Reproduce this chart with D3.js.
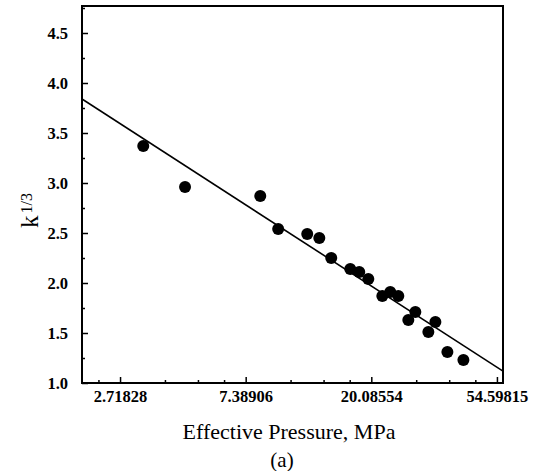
<!DOCTYPE html>
<html><head><meta charset="utf-8">
<script src="https://cdn.jsdelivr.net/npm/d3@7"></script>
<style>body{margin:0;background:#fff}</style>
</head><body><svg id="c" width="535" height="471"></svg>
<script>
// Data
const pressure = [3.27, 4.56, 8.30, 9.57, 12.06, 13.28, 14.60, 16.99, 18.25, 19.61, 21.93, 23.36, 24.90, 26.97, 28.52, 31.63, 33.45, 36.81, 41.81];
const k13 =      [3.37, 2.96, 2.87, 2.54, 2.49, 2.45, 2.25, 2.14, 2.11, 2.04, 1.87, 1.91, 1.87, 1.63, 1.71, 1.51, 1.61, 1.31, 1.23];
const xTickValues = [2.71828, 7.38906, 20.08554, 54.59815];
const xTickLabels = ["2.71828", "7.38906", "20.08554", "54.59815"];
const yTickValues = [1.0, 1.5, 2.0, 2.5, 3.0, 3.5, 4.0, 4.5];
const fitIntercept = 4.406;   // k^1/3 = a + b ln(P)
const fitSlope = -0.812;
const xDomain = [2.008, 57.3];
const yDomain = [1.0, 4.77];

const L = 82, R = 503, T = 6, B = 383;
const svg = d3.select("#c");
const x = d3.scaleLog().base(Math.E).domain(xDomain).range([L, R]);
const y = d3.scaleLinear().domain(yDomain).range([B, T]);

// minor ticks: 3 linearly spaced between log majors
const majorsAll = [1].concat(xTickValues).concat([148.41316]);
const xMinor = [];
for (let i = 0; i < majorsAll.length - 1; i++) {
  for (let j = 1; j < 4; j++) {
    const v = majorsAll[i] + (majorsAll[i+1] - majorsAll[i]) * j / 4;
    if (v > xDomain[0] && v < xDomain[1]) xMinor.push(v);
  }
}
const yMinor = yTickValues.map(v => v + 0.25).filter(v => v < yDomain[1]);

const font = "'Liberation Serif','Times New Roman',serif";

// frame
svg.append("rect").attr("x", L).attr("y", T).attr("width", R - L).attr("height", B - T)
  .attr("fill", "none").attr("stroke", "#000").attr("stroke-width", 2);

// x axis
const xAxis = svg.append("g").attr("transform", `translate(0,${B})`)
  .call(d3.axisBottom(x).tickValues(xTickValues).tickSizeInner(-6).tickSizeOuter(0).tickPadding(7)
    .tickFormat((d, i) => xTickLabels[i]));
xAxis.select(".domain").remove();
xAxis.selectAll("line").attr("stroke-width", 1.5);
xAxis.selectAll("text").attr("font-family", font).attr("font-size", 16.5).attr("font-weight", "bold").attr("fill", "#000");
const xMin = svg.append("g").attr("transform", `translate(0,${B})`)
  .call(d3.axisBottom(x).tickValues(xMinor).tickSizeInner(-3).tickSizeOuter(0).tickFormat(""));
xMin.select(".domain").remove();
xMin.selectAll("line").attr("stroke-width", 1.5);

// y axis
const yAxis = svg.append("g").attr("transform", `translate(${L},0)`)
  .call(d3.axisLeft(y).tickValues(yTickValues).tickSizeInner(-6).tickSizeOuter(0).tickPadding(14)
    .tickFormat(d3.format(".1f")));
yAxis.select(".domain").remove();
yAxis.selectAll("line").attr("stroke-width", 1.5);
yAxis.selectAll("text").attr("font-family", font).attr("font-size", 16.5).attr("font-weight", "bold").attr("fill", "#000");
const yMin = svg.append("g").attr("transform", `translate(${L},0)`)
  .call(d3.axisLeft(y).tickValues(yMinor).tickSizeInner(-3).tickSizeOuter(0).tickFormat(""));
yMin.select(".domain").remove();
yMin.selectAll("line").attr("stroke-width", 1.5);

// clip
svg.append("clipPath").attr("id", "clip").append("rect")
  .attr("x", L).attr("y", T).attr("width", R - L).attr("height", B - T);

// fit line
const fitPts = xDomain.map(p => [p, fitIntercept + fitSlope * Math.log(p)]);
svg.append("path").datum(fitPts).attr("clip-path", "url(#clip)")
  .attr("d", d3.line().x(d => x(d[0])).y(d => y(d[1])))
  .attr("fill", "none").attr("stroke", "#000").attr("stroke-width", 1.6);

// points
svg.append("g").selectAll("circle").data(pressure).join("circle")
  .attr("cx", d => x(d)).attr("cy", (d, i) => y(k13[i])).attr("r", 6).attr("fill", "#000");

// labels
svg.append("text").attr("x", 289).attr("y", 439).attr("text-anchor", "middle")
  .attr("font-family", font).attr("font-size", 22).text("Effective Pressure, MPa");
svg.append("text").attr("x", 282).attr("y", 467).attr("text-anchor", "middle")
  .attr("font-family", font).attr("font-size", 21).text("(a)");
const yl = svg.append("text").attr("transform", "translate(38,228) rotate(-90)")
  .attr("font-family", font).attr("font-size", 25).attr("fill", "#000");
yl.append("tspan").text("k");
yl.append("tspan").attr("font-size", 16).attr("dy", -6).attr("dx", 2).text("1/3");
</script></body></html>
